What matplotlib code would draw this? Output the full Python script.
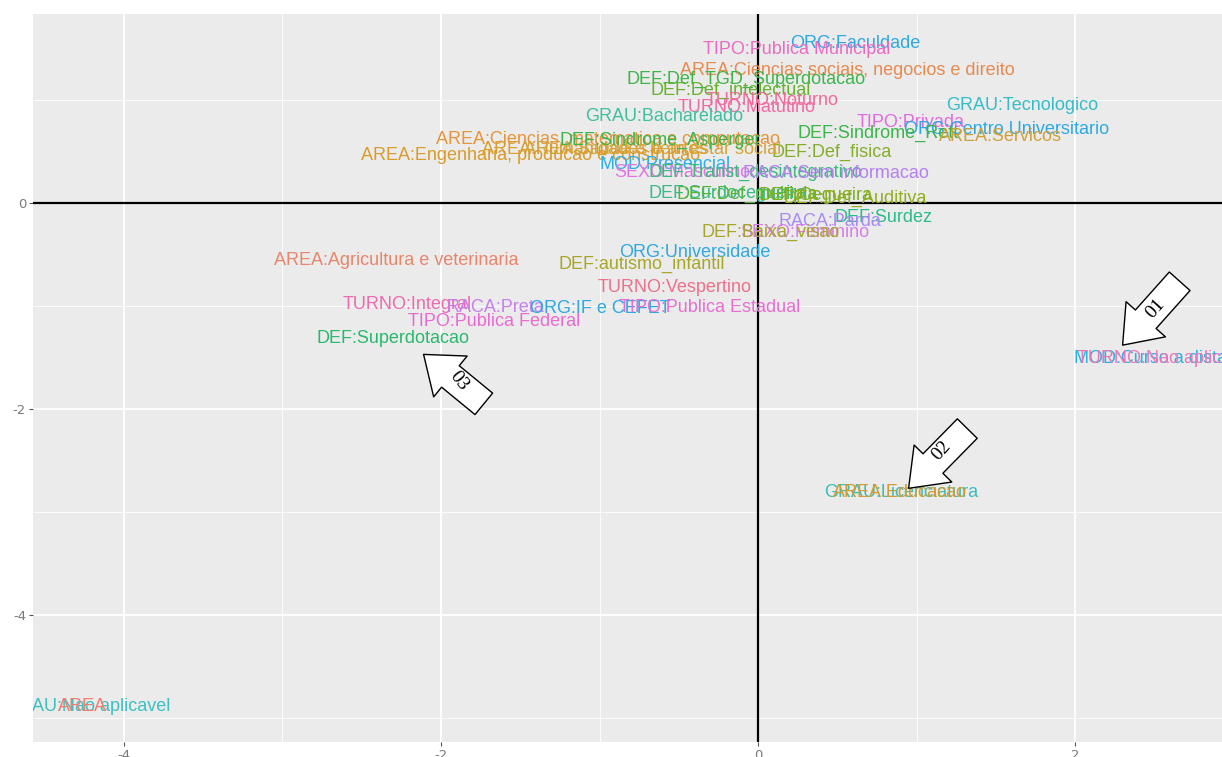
import numpy as np
import matplotlib
matplotlib.use("Agg")
import matplotlib.pyplot as plt

plt.rcParams["axes.unicode_minus"] = False

# Category labels and their coordinates on the two dimensions
labels = [
    "ORG:Faculdade", "TIPO:Publica Municipal", "AREA:Ciencias sociais, negocios e direito",
    "DEF:Def_TGD_Superdotacao", "DEF:Def_intelectual", "TURNO:Noturno", "TURNO:Matutino",
    "GRAU:Bacharelado", "GRAU:Tecnologico", "TIPO:Privada", "ORG:Centro Universitario",
    "DEF:Sindrome_Rett", "AREA:Servicos", "DEF:Def_fisica",
    "AREA:Ciencias, matematica e computacao", "AREA:Humanidades e artes",
    "AREA:Saude e bem estar social", "AREA:Engenharia, producao e construcao",
    "DEF:Sindrome_Asperger", "MOD:Presencial", "SEXO:Masculino", "DEF:Transt_desintegrativo",
    "RACA:Sem informacao", "DEF:Surdocegueira", "DEF:Def_multipla", "DEF:Cegueira",
    "DEF:Def_Auditiva", "DEF:Surdez", "RACA:Parda", "SEXO:Feminino", "DEF:Baixa_visao",
    "ORG:Universidade", "DEF:autismo_infantil", "AREA:Agricultura e veterinaria",
    "TURNO:Vespertino", "TURNO:Integral", "RACA:Preta", "ORG:IF e CEFET",
    "TIPO:Publica Estadual", "TIPO:Publica Federal", "DEF:Superdotacao",
    "MOD:Curso a distancia", "TURNO:Nao aplicavel", "GRAU:Licenciatura", "AREA:Educacao",
    "GRAU:Nao aplicavel", "AREA",
]
dim1 = [0.612, 0.246, 0.562, -0.076, -0.170, 0.088, -0.069, -0.593, 1.666, 0.965, 1.571,
        0.757, 1.527, 0.467, -0.946, -1.030, -0.662, -1.432, -0.618, -0.587, -0.479, -0.019,
        0.492, -0.189, -0.069, 0.360, 0.612, 0.789, 0.454, 0.297, 0.082, -0.397, -0.732,
        -2.284, -0.524, -2.215, -1.659, -0.997, -0.303, -1.666, -2.303, 2.580, 2.574,
        0.902, 0.896, -4.227, -4.259]
dim2 = [1.553, 1.495, 1.282, 1.204, 1.097, 1.000, 0.932, 0.835, 0.951, 0.786, 0.718,
        0.680, 0.641, 0.495, 0.612, 0.515, 0.515, 0.466, 0.612, 0.369, 0.301, 0.301,
        0.291, 0.097, 0.087, 0.068, 0.049, -0.136, -0.184, -0.291, -0.282, -0.476, -0.592,
        -0.563, -0.816, -0.981, -1.019, -1.029, -1.010, -1.146, -1.320, -1.505, -1.505,
        -2.806, -2.806, -4.893, -4.893]

# colour of each label
colors = [
    "#2ea8e0", "#ea6cc0", "#e8894e",
    "#3db54a", "#66b22e", "#f06a9a", "#ee6aa3",
    "#3dbfa0", "#35bcc8", "#e06bdd", "#2ea8e0",
    "#3ab54a", "#cfa03a", "#84ae2a",
    "#e5953b", "#d9a02e",
    "#d4a53a", "#d99b2b",
    "#3db54a", "#2aafe8", "#e074e0", "#3dba7f",
    "#b380f0", "#3bb98a", "#52b63a", "#7baf1f",
    "#92ad1e", "#2fba8e", "#a98bf5", "#d77ce8", "#a8a62a",
    "#2ea8e0", "#a8a62a", "#e7866a",
    "#ec718a", "#ec6bae", "#c580eb", "#2ea8e0",
    "#e66ed0", "#e96ad1", "#29b86e",
    "#25b3e0", "#e879b9", "#3cbdb8", "#d39b30",
    "#3cc0c0", "#f27d6f",
]

# numbered call-out arrows: (tail, tip, text position, rotation)
arrows = [
    ("01", (2.66, -0.76), (2.30, -1.38), (2.51, -1.03), 48),
    ("02", (1.32, -2.19), (0.95, -2.77), (1.16, -2.40), 48),
    ("03", (-1.73, -1.95), (-2.11, -1.47), (-1.89, -1.73), -52),
]

fig = plt.figure(figsize=(12.22, 7.57), dpi=100)
ax = fig.add_axes([33/1222, 15/757, 1 - 33/1222, (742 - 14)/757])
ax.set_facecolor("#ebebeb")
for s in ax.spines.values():
    s.set_visible(False)

ax.set_xlim(-4.574, 2.927)
ax.set_ylim(-5.233, 1.835)
ax.set_xticks([-4, -2, 0, 2])
ax.set_xticks([-3, -1, 1], minor=True)
ax.set_yticks([-4, -2, 0])
ax.set_yticks([-5, -3, -1, 1], minor=True)
ax.grid(which="major", color="white", lw=1.3)
ax.grid(which="minor", color="white", lw=0.6)
ax.set_axisbelow(True)
ax.tick_params(which="major", length=3, color="#555555", labelcolor="#7a7a7a",
               labelsize=9.5, pad=2)
ax.tick_params(which="minor", length=0)

ax.axhline(0, color="black", lw=1.6, zorder=1)
ax.axvline(0, color="black", lw=1.6, zorder=1)

for lab, x, y, c in zip(labels, dim1, dim2, colors):
    ax.text(x, y, lab, color=c, fontsize=13, family="Liberation Sans",
            ha="center", va="center", clip_on=True, zorder=3)

for num, tail, tip, tpos, rot in arrows:
    ax.annotate("", xy=tip, xytext=tail,
                arrowprops=dict(arrowstyle="simple,head_width=3.8,head_length=2.5,tail_width=2.0",
                                fc="white", ec="black", lw=1.0, shrinkA=0, shrinkB=0,
                                mutation_scale=10),
                zorder=4)
    ax.text(tpos[0], tpos[1], num, fontsize=14, family="Liberation Serif",
            rotation=rot, ha="center", va="center", zorder=5)

fig.savefig("out.png", dpi=100)
